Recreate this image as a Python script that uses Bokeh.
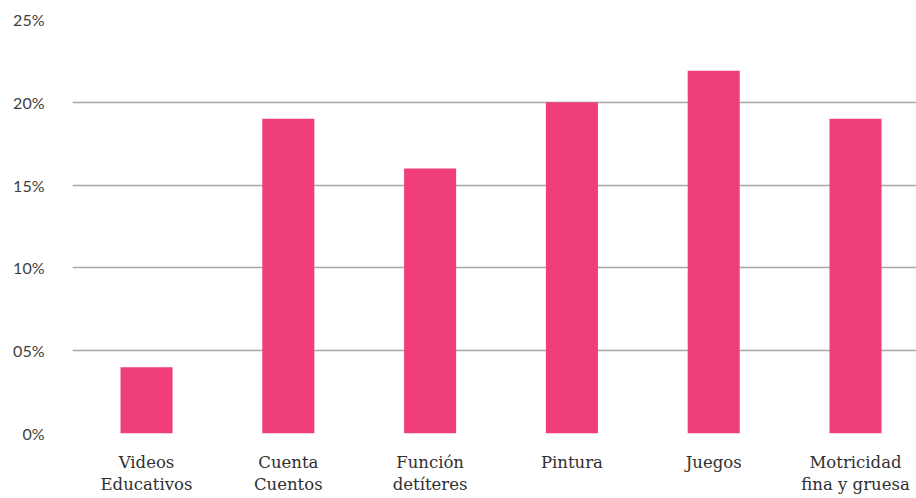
from bokeh.plotting import figure
from bokeh.models import Range1d, FixedTicker
from bokeh.embed import file_html
from bokeh.resources import INLINE

categories = ["Videos\nEducativos", "Cuenta\nCuentos", "Función\ndetíteres", "Pintura", "Juegos", "Motricidad\nfina y gruesa"]
values = [4, 19, 16, 20, 21.9, 19]
y_ticks = [0, 5, 10, 15, 20, 25]
y_labels = ["0%", "05%", "10%", "15%", "20%", "25%"]

xs = list(range(len(categories)))

p = figure(width=916, height=498, output_backend="svg", toolbar_location=None,
           x_range=Range1d(-0.522, 5.43), y_range=Range1d(0, 25),
           min_border_left=72, min_border_right=0, min_border_top=19, min_border_bottom=65)
p.outline_line_color = None
p.vbar(x=xs, top=values, width=0.367, color="#EF3E78", line_color=None)

p.xgrid.grid_line_color = None
p.ygrid.grid_line_color = "#a6a6a6"
p.ygrid.grid_line_width = 1.3

p.yaxis.ticker = FixedTicker(ticks=y_ticks)
p.yaxis.major_label_overrides = {t: l for t, l in zip(y_ticks, y_labels)}
p.yaxis.axis_line_color = None
p.yaxis.major_tick_line_color = None
p.yaxis.minor_tick_line_color = None
p.yaxis.major_label_text_font = "Lato"
p.yaxis.major_label_text_font_size = "16px"
p.yaxis.major_label_text_color = "#404040"
p.yaxis.major_label_standoff = 22

p.xaxis.ticker = FixedTicker(ticks=xs)
p.xaxis.major_label_overrides = {i: c for i, c in zip(xs, categories)}
p.xaxis.axis_line_color = None
p.xaxis.major_tick_line_color = None
p.xaxis.minor_tick_line_color = None
p.xaxis.major_label_text_font = "DejaVu Serif"
p.xaxis.major_label_text_font_size = "16.5px"
p.xaxis.major_label_text_color = "#303030"
p.xaxis.major_label_standoff = 13

open("out.html", "w").write(file_html(p, INLINE))
